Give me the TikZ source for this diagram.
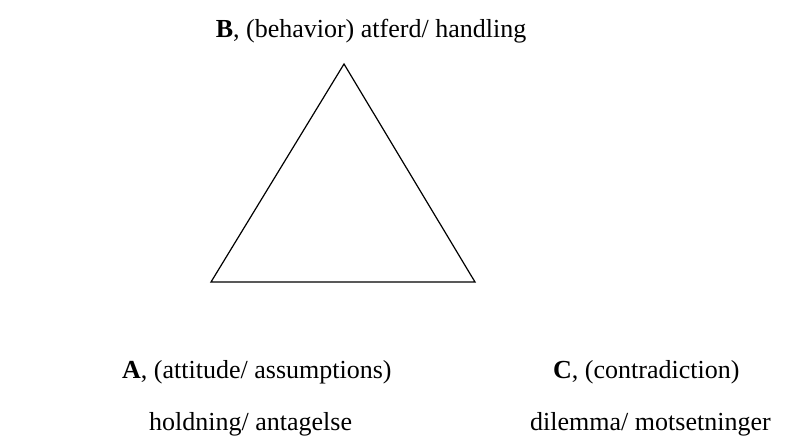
\documentclass[tikz,border=0pt]{standalone}
\usepackage{fontspec}
\setmainfont{Liberation Serif}
\usepackage{tikz}
\usetikzlibrary{positioning}

\begin{document}
\begin{tikzpicture}[x=1pt,y=1pt,
    every node/.style={font=\fontsize{26}{30}\selectfont,inner sep=0pt},
    lbl/.style={anchor=base west}]
    \useasboundingbox (0,0) rectangle (785,437);
    % triangle corners
    \coordinate (b) at (344,373);
    \coordinate (a) at (211,155);
    \coordinate (c) at (475,155);
    \draw[line width=1.2pt,line join=miter] (a) -- (b) -- (c) -- cycle;
    % labels
    \node[anchor=base] (btxt) at (371,399) {\textbf{B}, (behavior) atferd/ handling};
    \node[lbl] (atxt) at (122,59) {\textbf{A}, (attitude/ assumptions)};
    \node[lbl] (asub) at (149,7) {holdning/ antagelse};
    \node[lbl] (ctxt) at (553,59) {\textbf{C}, (contradiction)};
    \node[lbl] (csub) at (530,7) {dilemma/ motsetninger};
\end{tikzpicture}
\end{document}
